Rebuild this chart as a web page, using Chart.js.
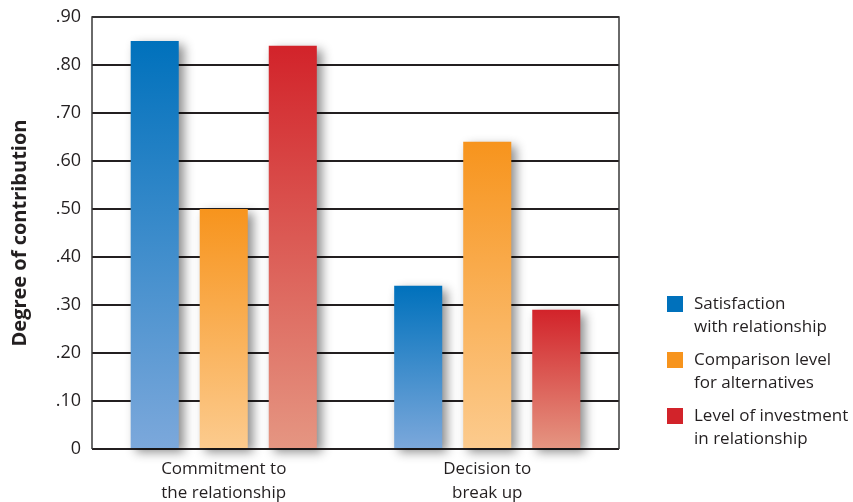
<!DOCTYPE html>
<html>
<head>
<meta charset="utf-8">
<script src="https://cdn.jsdelivr.net/npm/chart.js@4"></script>
<style>
html,body{margin:0;padding:0;background:#fff;}
#wrap{width:853px;height:502px;position:relative;}
</style>
</head>
<body>
<div id="wrap"><canvas id="c" width="853" height="502"></canvas></div>
<script>
const categories = [['Commitment to', 'the relationship'], ['Decision to', 'break up']];
const seriesNames = [['Satisfaction', 'with relationship'], ['Comparison level', 'for alternatives'], ['Level of investment', 'in relationship']];
const satisfaction = [0.85, 0.34];
const comparisonLevel = [0.50, 0.64];
const investment = [0.84, 0.29];
const yTickLabels = ['0', '.10', '.20', '.30', '.40', '.50', '.60', '.70', '.80', '.90'];
const yTitle = 'Degree of contribution';

const topColors = ['#0071BC', '#F7941D', '#D2232A'];
const bottomColors = ['#7CA8DB', '#FCCB8E', '#E59682'];
const textColor = '#231F20';
const FONT = "'Open Sans', sans-serif";

function barGradient(ctx) {
  const chart = ctx.chart;
  const ds = ctx.datasetIndex;
  if (!chart.chartArea || !chart.scales.y || ctx.raw == null) return topColors[ds];
  const y = chart.scales.y;
  const top = y.getPixelForValue(ctx.raw);
  const base = y.getPixelForValue(0);
  const g = chart.ctx.createLinearGradient(0, top, 0, base);
  g.addColorStop(0, topColors[ds]);
  g.addColorStop(1, bottomColors[ds]);
  return g;
}

const shadowPlugin = {
  id: 'barShadow',
  beforeDatasetsDraw(chart) {
    const c = chart.ctx;
    c.save();
    c.shadowColor = 'rgba(0,0,0,0.45)';
    c.shadowBlur = 10;
    c.shadowOffsetX = 5;
    c.shadowOffsetY = 4;
  },
  afterDatasetsDraw(chart) {
    chart.ctx.restore();
  }
};

const framePlugin = {
  id: 'frame',
  beforeDatasetsDraw(chart) {
    const c = chart.ctx, a = chart.chartArea;
    c.save();
    c.strokeStyle = '#3a3a3a';
    c.lineWidth = 1.5;
    c.beginPath();
    c.moveTo(a.left, a.bottom);
    c.lineTo(a.left, a.top);
    c.lineTo(a.right, a.top);
    c.lineTo(a.right, a.bottom);
    c.stroke();
    c.restore();
  }
};

const legendPlugin = {
  id: 'customLegend',
  afterDraw(chart) {
    const c = chart.ctx;
    c.save();
    c.font = "17px " + FONT;
    c.fillStyle = textColor;
    c.textBaseline = 'middle';
    c.textAlign = 'left';
    const x0 = 667, y0 = 296, step = 56, box = 16, lh = 23;
    seriesNames.forEach((lines, i) => {
      const y = y0 + i * step;
      c.fillStyle = topColors[i];
      c.fillRect(x0, y, box, box);
      c.fillStyle = textColor;
      lines.forEach((t, j) => c.fillText(t, 694, y + 8 + j * lh));
    });
    c.restore();
  }
};

const datasets = [satisfaction, comparisonLevel, investment].map((d, i) => ({
  label: seriesNames[i].join(' '),
  data: d,
  backgroundColor: barGradient,
  borderWidth: 0,
  categoryPercentage: 0.786,
  barPercentage: 0.696,
  clip: false
}));

new Chart(document.getElementById('c'), {
  type: 'bar',
  data: { labels: categories, datasets },
  options: {
    responsive: false,
    animation: false,
    devicePixelRatio: 1,
    layout: { padding: { top: 17, right: 234, left: 0, bottom: 0 } },
    plugins: { legend: { display: false }, tooltip: { enabled: false } },
    scales: {
      x: {
        grid: { display: false, drawTicks: false },
        border: { display: false },
        ticks: { color: textColor, font: { family: FONT, size: 17, lineHeight: 1.4 }, padding: 8, maxRotation: 0 },
        afterFit(s) { s.height = 53; s.paddingLeft = 0; s.paddingRight = 0; }
      },
      y: {
        min: 0, max: 0.9,
        grid: { color: '#231F20', lineWidth: 2, drawTicks: false },
        border: { display: false },
        ticks: {
          stepSize: 0.1,
          color: textColor,
          font: { family: FONT, size: 18 },
          padding: 11,
          callback: (v, i) => yTickLabels[i]
        },
        title: {
          display: true, text: yTitle, color: textColor,
          font: { family: FONT, size: 20, weight: 'bold' },
          padding: { top: 8, bottom: 0 }
        },
        afterFit(s) { s.width = 92; s.paddingTop = 0; s.paddingBottom = 0; }
      }
    }
  },
  plugins: [framePlugin, shadowPlugin, legendPlugin]
});
</script>
</body>
</html>
